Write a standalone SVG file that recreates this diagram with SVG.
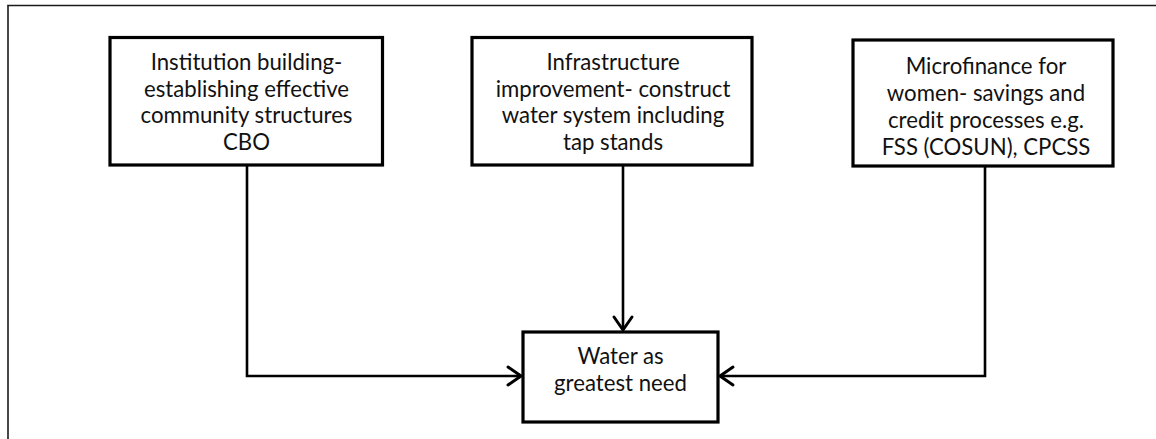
<svg xmlns="http://www.w3.org/2000/svg" width="1156" height="439" viewBox="0 0 1156 439">
  <style>
    .frame { stroke: #1a1a1a; stroke-width: 1.6; fill: none; }
    .box { fill: #ffffff; stroke: #000000; stroke-width: 3.2; }
    .link { fill: none; stroke: #000000; stroke-width: 2.6; }
    .label { font-family: "Lato", "Open Sans", sans-serif; font-size: 22.2px; fill: #111111; text-anchor: middle; }
  </style>
  <defs>
    <marker id="chevron" markerUnits="userSpaceOnUse" viewBox="-16 -12 20 24" refX="0" refY="0" markerWidth="20" markerHeight="24" orient="auto">
      <path d="M -13,-9 L 0,0 L -13,9" fill="none" stroke="#000000" stroke-width="3" stroke-linecap="round" stroke-linejoin="round"/>
    </marker>
  </defs>

  <rect width="1156" height="439" fill="#ffffff"/>

  <!-- surrounding cell border -->
  <g id="frame">
    <line class="frame" x1="7.2" y1="5.5" x2="1156" y2="5.5"/>
    <line class="frame" x1="8" y1="5.5" x2="8" y2="439"/>
  </g>

  <!-- connectors -->
  <g id="connectors">
    <polyline class="link" points="247,165 247,376 521,376" marker-end="url(#chevron)"/>
    <polyline class="link" points="623,165 623,330" marker-end="url(#chevron)"/>
    <polyline class="link" points="985,166 985,376 720,376" marker-end="url(#chevron)"/>
  </g>

  <g id="institution-building">
    <rect class="box" x="110" y="37.5" width="272.5" height="127.5"/>
    <text class="label" x="246.5" y="70">Institution building-</text>
    <text class="label" x="246.5" y="96.5">establishing effective</text>
    <text class="label" x="246.5" y="123">community structures</text>
    <text class="label" x="246.5" y="149.5">CBO</text>
  </g>

  <g id="infrastructure">
    <rect class="box" x="472" y="37.5" width="280" height="127.5"/>
    <text class="label" x="613" y="69.5">Infrastructure</text>
    <text class="label" x="613" y="96.5">improvement- construct</text>
    <text class="label" x="613" y="123">water system including</text>
    <text class="label" x="613" y="149.5">tap stands</text>
  </g>

  <g id="microfinance">
    <rect class="box" x="853" y="40" width="260" height="126"/>
    <text class="label" x="986" y="73.5">Microfinance for</text>
    <text class="label" x="986" y="101">women- savings and</text>
    <text class="label" x="986" y="128">credit processes e.g.</text>
    <text class="label" x="986" y="155">FSS (COSUN), CPCSS</text>
  </g>

  <g id="water-need">
    <rect class="box" x="523" y="332" width="195" height="90"/>
    <text class="label" x="620.5" y="363.5">Water as</text>
    <text class="label" x="620.5" y="390.5">greatest need</text>
  </g>
</svg>
